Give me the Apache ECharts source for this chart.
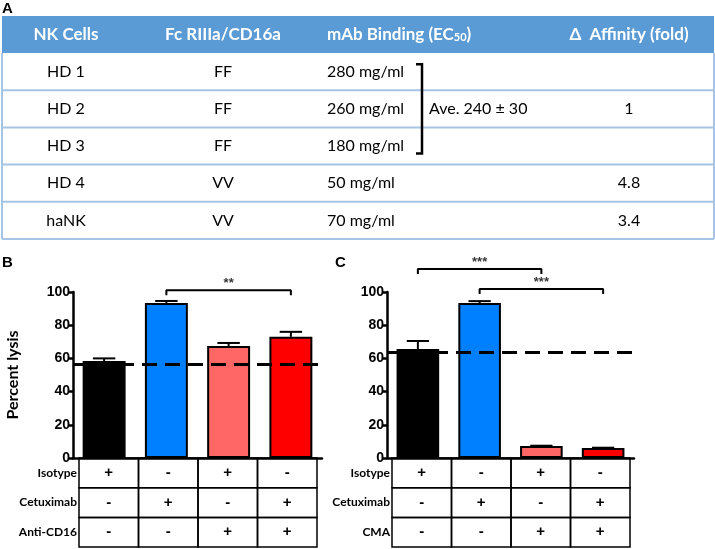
<!DOCTYPE html>
<html>
<head>
<meta charset="utf-8">
<script src="https://cdn.jsdelivr.net/npm/echarts@6/dist/echarts.min.js"></script>
<style>
  html, body { margin: 0; padding: 0; background: #fff; }
  #main { width: 715px; height: 549px; }
</style>
</head>
<body>
<div id="main"></div>
<script>
// panel A table
var tableHeader = ['NK Cells', 'Fc RIIIa/CD16a', 'mAb Binding (EC50)', 'Δ  Affinity (fold)'];
var nkCells = ['HD 1', 'HD 2', 'HD 3', 'HD 4', 'haNK'];
var fcGenotype = ['FF', 'FF', 'FF', 'VV', 'VV'];
var ec50 = [280, 260, 180, 50, 70];
var affinityFold = [null, 1, null, 4.8, 3.4];
var ffAverage = 'Ave. 240 ± 30';

// panels B and C
var conditions = ['Isotype', 'Cetuximab', 'Isotype + block', 'Cetuximab + block'];
var lysisB = [58.4, 93.4, 67.5, 73.0];
var errB = [1.6, 1.2, 1.8, 3.0];
var baseB = 56.6;
var lysisC = [65.7, 93.4, 7.2, 6.0];
var errC = [4.8, 1.1, 0.2, 0.2];
var baseC = 64;

var rowsB = ['Isotype', 'Cetuximab', 'Anti-CD16'];
var rowsC = ['Isotype', 'Cetuximab', 'CMA'];
var signs = [
    ['+', '-', '+', '-'],
    ['-', '+', '-', '+'],
    ['-', '-', '+', '+'],
];

// significance brackets: category from/to, height, stars
var sigB = [{ from: 1, to: 3, y: 101, text: '**' }];
var sigC = [
    { from: 0, to: 2, y: 113.8, text: '***' },
    { from: 1, to: 3, y: 101.8, text: '***' },
];

var barColors = ['#000000', '#0080ff', '#ff6666', '#ff0000'];
var ARIAL = 'Liberation Sans';
var SANS = 'Lato';

var chart = echarts.init(document.getElementById('main'), null, { renderer: 'canvas' });

function txt(text, x, y, opt) {
    opt = opt || {};
    return {
        type: 'text',
        x: x,
        y: y,
        rotation: opt.rotation || 0,
        z: 20,
        style: {
            text: text,
            fill: opt.color || '#000',
            fontSize: opt.size || 16,
            fontFamily: opt.family || SANS,
            fontWeight: opt.weight || 'normal',
            align: opt.align || 'left',
            verticalAlign: 'middle',
            textAlign: opt.align || 'left',
            textVerticalAlign: 'middle',
            rich: opt.rich,
        },
    };
}

function hline(x1, x2, y, color, w) {
    return {
        type: 'line',
        z: 15,
        shape: { x1: x1, y1: y, x2: x2, y2: y },
        style: { stroke: color, lineWidth: w },
    };
}

// ---- table A ----
function buildTableA() {
    var els = [];
    var left = 2, right = 714, top = 16, headBottom = 53, rowH = 37.2;
    var bottom = headBottom + rowH * nkCells.length;
    var lineCol = '#a6c4e4';
    els.push({
        type: 'rect',
        z: 10,
        shape: { x: left, y: top, width: right - left, height: headBottom - top },
        style: { fill: '#5b9bd5' },
    });
    var hy = (top + headBottom) / 2;
    var hopt = { color: '#fff', size: 17, weight: 'bold' };
    els.push(txt(tableHeader[0], 66, hy, Object.assign({ align: 'center' }, hopt)));
    els.push(txt(tableHeader[1], 223, hy, Object.assign({ align: 'center' }, hopt)));
    els.push(txt('{a|mAb Binding (EC}{s|50}{a|)}', 327, hy, Object.assign({
        rich: {
            a: { fill: '#fff', fontSize: 17, fontWeight: 'bold', fontFamily: SANS, verticalAlign: 'bottom' },
            s: { fill: '#fff', fontSize: 11, fontWeight: 'bold', fontFamily: SANS, verticalAlign: 'bottom' },
        },
    }, hopt)));
    els.push(txt(tableHeader[3], 629, hy, Object.assign({ align: 'center' }, hopt)));

    for (var i = 0; i < nkCells.length; i++) {
        var cy = headBottom + rowH * (i + 0.5);
        els.push(txt(nkCells[i], 66, cy, { align: 'center' }));
        els.push(txt(fcGenotype[i], 223, cy, { align: 'center' }));
        els.push(txt(ec50[i] + ' mg/ml', 327, cy));
        if (affinityFold[i] != null) {
            els.push(txt(String(affinityFold[i]), 629, cy, { align: 'center' }));
        }
        els.push(hline(left, right, headBottom + rowH * (i + 1), lineCol, 2));
    }
    els.push({ type: 'line', z: 15, shape: { x1: left, y1: headBottom, x2: left, y2: bottom }, style: { stroke: lineCol, lineWidth: 2 } });
    els.push({ type: 'line', z: 15, shape: { x1: right, y1: headBottom, x2: right, y2: bottom }, style: { stroke: lineCol, lineWidth: 2 } });

    // bracket over the FF donors
    var by1 = headBottom + rowH * 0.3, by2 = headBottom + rowH * 2.7;
    els.push({
        type: 'polyline',
        z: 16,
        shape: { points: [[416, by1], [422, by1], [422, by2], [416, by2]] },
        style: { stroke: '#000', lineWidth: 2.5, fill: null },
    });
    els.push(txt(ffAverage, 429, headBottom + rowH * 1.5));
    return els;
}

// ---- +/- tables below the bars ----
function buildSignTable(left, right, labels) {
    var els = [];
    var top = 458, rowH = 29.7;
    var cw = (right - left) / 4;
    for (var r = 0; r < labels.length; r++) {
        var cy = top + rowH * (r + 0.5);
        els.push(txt(labels[r], left - 2, cy, { align: 'right', size: 12, weight: 'bold' }));
        for (var c = 0; c < 4; c++) {
            els.push({
                type: 'rect',
                z: 12,
                shape: { x: left + cw * c, y: top + rowH * r, width: cw, height: rowH },
                style: { fill: null, stroke: '#000', lineWidth: 1.5 },
            });
            els.push(txt(signs[r][c], left + cw * (c + 0.5), cy, { align: 'center', size: 15, weight: 'bold', family: ARIAL }));
        }
    }
    return els;
}

function yAxisFor(idx, name) {
    return {
        type: 'value',
        gridIndex: idx,
        min: 0,
        max: 100,
        interval: 20,
        name: name,
        nameLocation: 'middle',
        nameGap: 52,
        nameTextStyle: { fontFamily: SANS, fontSize: 16, fontWeight: 'bold', color: '#000' },
        axisLine: { show: true, lineStyle: { color: '#000', width: 2.5 } },
        axisTick: { show: true, length: 5, lineStyle: { color: '#000', width: 2.5 } },
        axisLabel: { color: '#000', fontFamily: ARIAL, fontWeight: 'bold', fontSize: 14, margin: 3 },
        splitLine: { show: false },
    };
}

function xAxisFor(idx) {
    return {
        type: 'category',
        gridIndex: idx,
        data: conditions,
        axisLine: { show: true, lineStyle: { color: '#000', width: 2.5 } },
        axisTick: { show: false },
        axisLabel: { show: false },
    };
}

function panelSeries(idx, values, errs, base, sigs) {
    var list = [];
    list.push({
        type: 'bar',
        xAxisIndex: idx,
        yAxisIndex: idx,
        barWidth: '69%',
        data: values.map(function (v, i) {
            return { value: v, itemStyle: { color: barColors[i] } };
        }),
        itemStyle: { borderColor: '#000', borderWidth: 2 },
        markLine: {
            silent: true,
            symbol: 'none',
            label: { show: false },
            lineStyle: { color: '#000', width: 3, type: [15, 8] },
            data: [{ yAxis: base }],
        },
    });
    list.push({
        type: 'custom',
        xAxisIndex: idx,
        yAxisIndex: idx,
        z: 4,
        data: values.map(function (v, i) { return [i, v, v + errs[i]]; }),
        renderItem: function (params, api) {
            var p0 = api.coord([api.value(0), api.value(1)]);
            var p1 = api.coord([api.value(0), api.value(2)]);
            var half = api.size([1, 0])[0] * 0.18;
            return {
                type: 'group',
                children: [
                    { type: 'line', shape: { x1: p0[0], y1: p0[1], x2: p1[0], y2: p1[1] }, style: { stroke: '#000', lineWidth: 2 } },
                    { type: 'line', shape: { x1: p1[0] - half, y1: p1[1], x2: p1[0] + half, y2: p1[1] }, style: { stroke: '#000', lineWidth: 2 } },
                ],
            };
        },
    });
    sigs.forEach(function (s) {
        list.push({
            type: 'line',
            xAxisIndex: idx,
            yAxisIndex: idx,
            clip: false,
            symbol: 'none',
            silent: true,
            lineStyle: { color: '#000', width: 2 },
            data: [[s.from, s.y - 3], [s.from, s.y], [s.to, s.y], [s.to, s.y - 3]],
        });
        list.push({
            type: 'scatter',
            xAxisIndex: idx,
            yAxisIndex: idx,
            clip: false,
            symbolSize: 0,
            silent: true,
            data: [[(s.from + s.to) / 2, s.y]],
            label: {
                show: true,
                position: 'top',
                distance: 0,
                formatter: s.text,
                color: '#000',
                fontFamily: ARIAL,
                fontWeight: 'bold',
                fontSize: 13,
            },
        });
    });
    return list;
}

var graphics = buildTableA()
    .concat(buildSignTable(79, 317, rowsB))
    .concat(buildSignTable(392, 630, rowsC));
graphics.push(txt('A', 2, 9, { size: 15, weight: 'bold', family: ARIAL }));
graphics.push(txt('B', 2, 263, { size: 15, weight: 'bold', family: ARIAL }));
graphics.push(txt('C', 335, 263, { size: 15, weight: 'bold', family: ARIAL }));

var option = {
    backgroundColor: '#ffffff',
    animation: false,
    grid: [
        { left: 73, width: 249, top: 292, height: 166 },
        { left: 387, width: 247, top: 292, height: 166 },
    ],
    xAxis: [xAxisFor(0), xAxisFor(1)],
    yAxis: [yAxisFor(0, 'Percent lysis'), yAxisFor(1, '')],
    series: panelSeries(0, lysisB, errB, baseB, sigB).concat(panelSeries(1, lysisC, errC, baseC, sigC)),
    graphic: graphics,
};

chart.setOption(option);
</script>
</body>
</html>
